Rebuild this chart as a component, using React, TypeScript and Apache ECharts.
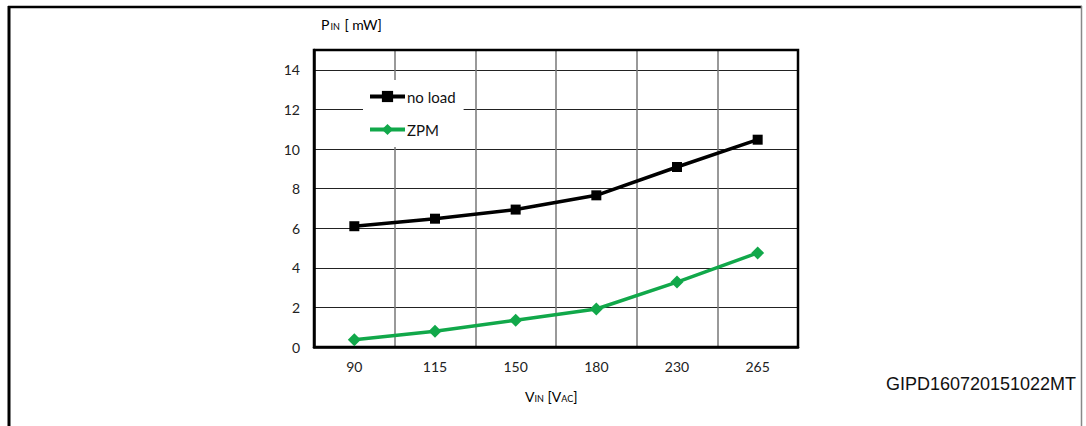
import React, { useEffect, useRef } from "react";
import * as echarts from "echarts";

const categories = ["90", "115", "150", "180", "230", "265"];
const noLoad = [6.1, 6.48, 6.94, 7.66, 9.09, 10.47];
const zpm = [0.37, 0.79, 1.35, 1.92, 3.28, 4.75];
const yMin = 0;
const yMax = 15;
const yInterval = 2;

const FONT = "Lato, 'Open Sans', sans-serif";

export default function App() {
  const ref = useRef<HTMLDivElement>(null);
  useEffect(() => {
    if (!ref.current) return;
    const chart = echarts.init(ref.current, null, { renderer: "svg" });
    chart.setOption({
      animation: false,
      backgroundColor: "#ffffff",
      grid: {
        left: 314,
        right: 288,
        top: 50,
        bottom: 79,
        show: true,
        borderColor: "#000",
        borderWidth: 2.5,
        backgroundColor: "transparent",
        z: 3,
      },
      legend: {
        left: 363,
        top: 80,
        orient: "vertical",
        padding: [9, 8, 10, 5],
        itemGap: 18,
        itemWidth: 35,
        itemHeight: 14,
        backgroundColor: "#ffffff",
        lineStyle: { width: 4 },
        textStyle: { fontFamily: FONT, fontSize: 15, color: "#111", padding: [0, 0, 0, -3] },
        data: ["no load", "ZPM"],
      },
      xAxis: {
        type: "category",
        data: categories,
        boundaryGap: true,
        axisLine: { show: true, lineStyle: { color: "#000", width: 2.5 } },
        axisTick: { show: false },
        axisLabel: { fontFamily: FONT, fontSize: 14, color: "#222", margin: 12 },
        splitLine: { show: true, lineStyle: { color: "#777", width: 1.5 } },
      },
      yAxis: {
        type: "value",
        min: yMin,
        max: yMax,
        interval: yInterval,
        axisLine: { show: true, lineStyle: { color: "#000", width: 2.5 } },
        axisTick: { show: false },
        axisLabel: {
          fontFamily: FONT,
          fontSize: 14,
          color: "#222",
          margin: 14,
          showMaxLabel: false,
        },
        splitLine: { show: true, lineStyle: { color: "#222", width: 1 } },
      },
      series: [
        {
          name: "no load",
          type: "line",
          data: noLoad,
          symbol: "rect",
          symbolSize: 10,
          itemStyle: { color: "#000" },
          lineStyle: { color: "#000", width: 3.5 },
          z: 5,
        },
        {
          name: "ZPM",
          type: "line",
          data: zpm,
          symbol: "diamond",
          symbolSize: 13,
          itemStyle: { color: "#11a84a" },
          lineStyle: { color: "#11a84a", width: 3.5 },
          z: 5,
        },
      ],
      graphic: [
        { type: "line", shape: { x1: 8, y1: 7, x2: 1082, y2: 7 }, style: { stroke: "#000", lineWidth: 2.5 } },
        { type: "line", shape: { x1: 9, y1: 6, x2: 9, y2: 426 }, style: { stroke: "#000", lineWidth: 3 } },
        { type: "line", shape: { x1: 1081.5, y1: 6, x2: 1081.5, y2: 426 }, style: { stroke: "#888", lineWidth: 1.5 } },
        {
          type: "text",
          left: 321,
          top: 17,
          style: {
            text: "{a|P}{s|IN}{a| [ mW]}",
            rich: {
              a: { fontFamily: FONT, fontSize: 14, color: "#222", verticalAlign: "bottom", lineHeight: 17 },
              s: { fontFamily: FONT, fontSize: 9, color: "#222", verticalAlign: "bottom", lineHeight: 13, padding: [0, 1, 0, 1] },
            },
          },
        },
        {
          type: "text",
          left: 525,
          top: 389,
          style: {
            text: "{a|V}{s|IN}{a| [V}{s|AC}{a|]}",
            rich: {
              a: { fontFamily: FONT, fontSize: 14, color: "#222", verticalAlign: "bottom", lineHeight: 17 },
              s: { fontFamily: FONT, fontSize: 9, color: "#222", verticalAlign: "bottom", lineHeight: 13 },
            },
          },
        },
        {
          type: "text",
          right: 10,
          top: 375,
          style: {
            text: "GIPD160720151022MT",
            fontFamily: "'Liberation Sans', Arial, sans-serif",
            fontSize: 18,
            fill: "#111",
          },
        },
      ],
    });
    return () => chart.dispose();
  }, []);
  return (
    <div
      ref={ref}
      style={{ position: "fixed", left: 0, top: 0, width: 1086, height: 426 }}
    />
  );
}
